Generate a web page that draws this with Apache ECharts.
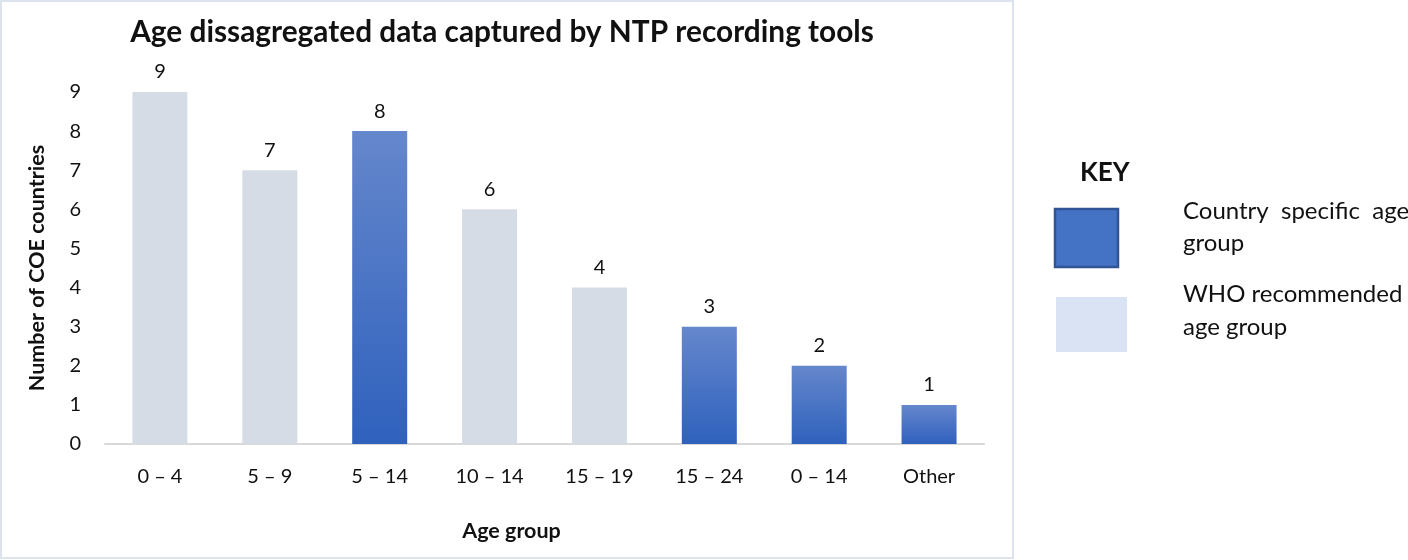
<!DOCTYPE html>
<html>
<head>
<meta charset="utf-8">
<script src="https://cdn.jsdelivr.net/npm/echarts@6/dist/echarts.min.js"></script>
<style>
  html, body { margin: 0; padding: 0; background: #ffffff; }
  #chart { width: 1408px; height: 560px; }
</style>
</head>
<body>
<div id="chart"></div>
<script>
// Age groups recorded by NTP tools and the number of countries using each
const ageGroups = ['0 – 4', '5 – 9', '5 – 14', '10 – 14', '15 – 19', '15 – 24', '0 – 14', 'Other'];
const countryCounts = [9, 7, 8, 6, 4, 3, 2, 1];
// 'who' = WHO recommended age group, 'country' = country specific age group
const groupKinds = ['who', 'who', 'country', 'who', 'who', 'country', 'country', 'country'];
const yTicks = [0, 1, 2, 3, 4, 5, 6, 7, 8, 9];

const FONT = 'Lato, "Open Sans", sans-serif';
const TEXT = '#111111';

const blueFill = new echarts.graphic.LinearGradient(0, 0, 0, 1, [
  { offset: 0, color: '#6587cc' },
  { offset: 1, color: '#2f61bd' }
]);
const greyFill = '#d6dce5';

const chart = echarts.init(document.getElementById('chart'), null, { renderer: 'canvas' });

chart.setOption({
  backgroundColor: '#ffffff',
  animation: false,
  textStyle: { fontFamily: FONT },
  title: {
    text: 'Age dissagregated data captured by NTP recording tools',
    left: 497,
    textAlign: 'center',
    top: 12,
    textStyle: { fontFamily: FONT, fontWeight: 'bold', fontSize: 29.8, color: TEXT }
  },
  grid: { left: 105, right: 424, top: 92, bottom: 116, containLabel: false },
  xAxis: {
    type: 'category',
    data: ageGroups,
    name: 'Age group',
    nameLocation: 'middle',
    nameGap: 76,
    nameTextStyle: {
      fontFamily: FONT, fontWeight: 'bold', fontSize: 21.5, color: TEXT,
      padding: [0, 66, 0, 0]
    },
    axisLine: { show: true, lineStyle: { color: '#d9d9d9', width: 2 } },
    axisTick: { show: false },
    axisLabel: { fontFamily: FONT, fontSize: 20, color: TEXT, margin: 23 }
  },
  yAxis: {
    type: 'value',
    min: 0,
    max: 9,
    interval: 1,
    name: 'Number of COE countries',
    nameLocation: 'middle',
    nameGap: 57,
    nameTextStyle: { fontFamily: FONT, fontWeight: 'bold', fontSize: 21.5, color: TEXT },
    axisLine: { show: false },
    axisTick: { show: false },
    splitLine: { show: false },
    axisLabel: {
      fontFamily: FONT, fontSize: 20, color: TEXT, margin: 24,
      formatter: v => (yTicks.includes(v) ? String(v) : '')
    }
  },
  series: [{
    type: 'bar',
    barWidth: 55,
    data: countryCounts.map((v, i) => ({
      value: v,
      itemStyle: { color: groupKinds[i] === 'country' ? blueFill : greyFill }
    })),
    label: {
      show: true,
      position: 'top',
      distance: 10,
      fontFamily: FONT,
      fontSize: 20,
      color: TEXT
    }
  }],
  graphic: [
    // chart frame
    {
      type: 'rect',
      shape: { x: 1, y: 1, width: 1012, height: 557 },
      style: { fill: 'none', stroke: '#dde3ec', lineWidth: 2 },
      silent: true, z: -1
    },
    // key
    {
      type: 'text', left: 1080, top: 160,
      style: { text: 'KEY', fontFamily: FONT, fontWeight: 'bold', fontSize: 26, fill: TEXT }
    },
    {
      type: 'rect',
      shape: { x: 1055, y: 209, width: 63, height: 58 },
      style: { fill: '#4472c4', stroke: '#2f5597', lineWidth: 2.5 }
    },
    {
      type: 'rect',
      shape: { x: 1056, y: 297, width: 71, height: 55 },
      style: { fill: '#dae3f3' }
    },
    {
      type: 'text', left: 1183, top: 195,
      style: { text: 'Country  specific  age\ngroup', fontFamily: FONT, fontSize: 24, lineHeight: 32, fill: TEXT }
    },
    {
      type: 'text', left: 1183, top: 278,
      style: { text: 'WHO recommended\nage group', fontFamily: FONT, fontSize: 24, lineHeight: 33, fill: TEXT }
    }
  ]
});
</script>
</body>
</html>
